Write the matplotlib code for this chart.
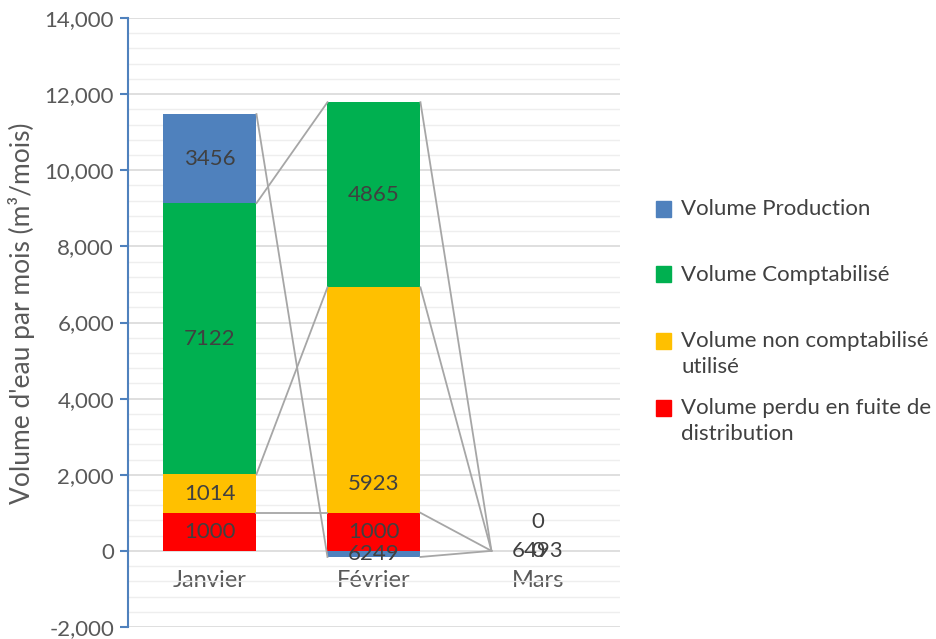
import matplotlib.pyplot as plt
from matplotlib.patches import Rectangle
from matplotlib.ticker import MultipleLocator, FuncFormatter

plt.rcParams['font.family'] = ['Lato', 'DejaVu Sans']

# ---------------- DATA ----------------
months = ["Janvier", "Février", "Mars"]
# stacked from bottom to top
perdu = [1000, 1000, 0]
non_compta = [1014, 5923, 0]
compta = [7122, 4865, 0]
production = [2340, -160, 0]          # drawn heights
production_labels = ["3456", "6249", "6493"]   # labels printed on the chart
colors = ["#FF0000", "#FFC000", "#00B050", "#4F81BD"]
legend_labels = ["Volume Production", "Volume Comptabilisé",
                 "Volume non comptabilisé\nutilisé",
                 "Volume perdu en fuite de\ndistribution"]
legend_colors = ["#4F81BD", "#00B050", "#FFC000", "#FF0000"]

LABEL_FS = 16
TXT = "#404040"

# ---------------- FIGURE ----------------
fig = plt.figure(figsize=(9.37, 6.39), dpi=100)
ax = fig.add_axes([0.1366, 0.0188, 0.525, 0.953])
ax.set_xlim(-0.5, 2.5)
ax.set_ylim(-2000, 14000)

width = 0.567
x = list(range(len(months)))

# grid
ax.yaxis.set_major_locator(MultipleLocator(2000))
ax.yaxis.set_minor_locator(MultipleLocator(400))
ax.grid(axis="y", which="major", color="#D9D9D9", lw=1.2, zorder=0)
ax.grid(axis="y", which="minor", color="#EEEEEE", lw=1.0, zorder=0)

# stacked bars
pos_vals = [perdu, non_compta, compta]
bottoms = [0, 0, 0]
tops = {}  # cumulative tops per series for series lines
for i, vals in enumerate(pos_vals):
    ax.bar(x, vals, width, bottom=bottoms, color=colors[i], zorder=2)
    for j in x:
        if months[j] == "Mars":
            continue
        yc = bottoms[j] + vals[j] / 2
        if i == 1 and j == 1:
            yc = bottoms[j] + 750   # label sits low in the segment
        ax.text(j, yc, str(vals[j]), ha="center", va="center",
                fontsize=LABEL_FS, color=TXT, zorder=4)
    bottoms = [b + v for b, v in zip(bottoms, vals)]
    tops[i] = list(bottoms)

prod_bottom = [bottoms[j] if production[j] >= 0 else 0 for j in x]
ax.bar(x, production, width, bottom=prod_bottom, color=colors[3], zorder=2)
tops[3] = [prod_bottom[j] + production[j] for j in x]
for j in x:
    ax.text(j, prod_bottom[j] + production[j] / 2, production_labels[j],
            ha="center", va="center", fontsize=LABEL_FS, color=TXT, zorder=4)

# Mars labels (zero-height segments)
ax.text(2, 0, "0", ha="center", va="center", fontsize=LABEL_FS, color=TXT, zorder=4)
ax.text(2, 750, "0", ha="center", va="center", fontsize=LABEL_FS, color=TXT, zorder=4)

# series lines
for i in range(4):
    for j in range(len(months) - 1):
        ax.plot([j + width / 2, j + 1 - width / 2], [tops[i][j], tops[i][j + 1]],
                color="#A6A6A6", lw=1.3, zorder=3)

# axes styling
for s in ["top", "right", "bottom"]:
    ax.spines[s].set_visible(False)
ax.spines["left"].set_color("#4F81BD")
ax.spines["left"].set_linewidth(1.5)
ax.tick_params(axis="y", which="major", length=6, width=1.5, color="#4F81BD",
               labelsize=16, labelcolor="#595959", pad=4)
ax.tick_params(axis="y", which="minor", length=0)
ax.yaxis.set_major_formatter(FuncFormatter(lambda v, p: f"{int(v):,}"))
ax.set_xticks(x)
ax.set_xticklabels(months)
ax.spines["bottom"].set_position(("data", 0))
ax.tick_params(axis="x", length=0, labelsize=17, labelcolor="#595959", pad=14)
ax.set_ylabel("Volume d'eau par mois (m³/mois)", fontsize=19, color="#595959")
ax.yaxis.set_label_coords(-0.19, 0.515)

# legend
ys = [0.672, 0.570, 0.466, 0.361]
for lab, col, yy in zip(legend_labels, legend_colors, ys):
    fig.patches.append(Rectangle((0.700, yy - 0.012), 0.016, 0.025, color=col,
                                 transform=fig.transFigure, figure=fig))
    fig.text(0.727, yy + 0.016, lab, fontsize=16, color=TXT, va="top",
             linespacing=1.35)

fig.savefig("out.png", dpi=100)
